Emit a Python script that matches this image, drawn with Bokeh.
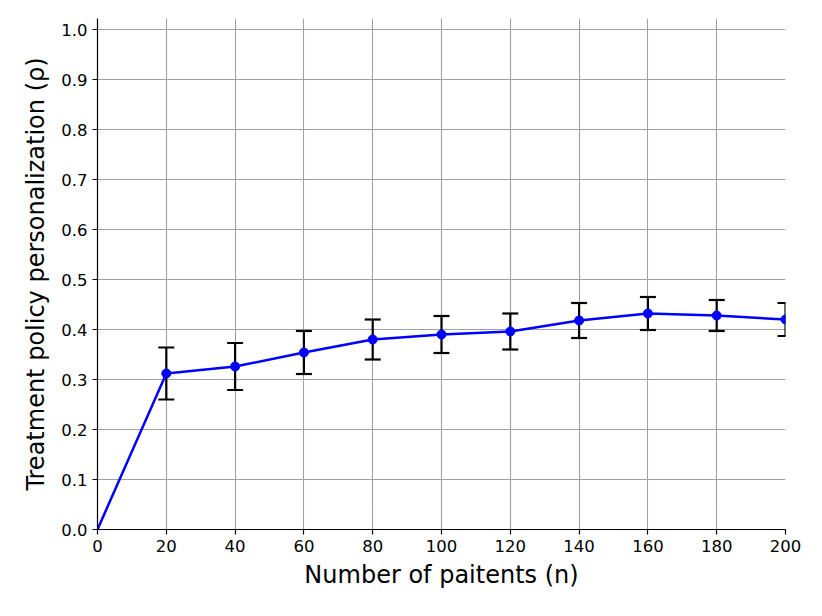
from bokeh.plotting import figure
from bokeh.models import ColumnDataSource, Whisker, Range1d, FixedTicker, NumeralTickFormatter
from bokeh.embed import file_html
from bokeh.resources import INLINE

n_line = [0, 20, 40, 60, 80, 100, 120, 140, 160, 180, 200]
rho_line = [0.0, 0.312, 0.326, 0.354, 0.380, 0.390, 0.396, 0.418, 0.432, 0.428, 0.420]
n_pts = [20, 40, 60, 80, 100, 120, 140, 160, 180, 200]
rho_pts = [0.312, 0.326, 0.354, 0.380, 0.390, 0.396, 0.418, 0.432, 0.428, 0.420]
rho_err = [0.052, 0.047, 0.043, 0.040, 0.037, 0.036, 0.035, 0.033, 0.031, 0.033]
x_ticks = [0, 20, 40, 60, 80, 100, 120, 140, 160, 180, 200]
y_ticks = [0.0, 0.1, 0.2, 0.3, 0.4, 0.5, 0.6, 0.7, 0.8, 0.9, 1.0]

FONT = "DejaVu Sans"

p = figure(width=814, height=608, output_backend="svg", toolbar_location=None,
           x_range=Range1d(0, 200), y_range=Range1d(0, 1.022),
           min_border_left=97, min_border_right=29, min_border_top=18, min_border_bottom=79)
p.outline_line_color = None
p.background_fill_color = "white"
p.border_fill_color = "white"

for ax in (p.xaxis[0], p.yaxis[0]):
    ax.axis_line_color = "black"
    ax.axis_line_width = 1.2
    ax.major_tick_line_color = "black"
    ax.major_tick_line_width = 1.2
    ax.major_tick_out = 5
    ax.major_tick_in = 0
    ax.minor_tick_line_color = None
    ax.major_label_text_font = FONT
    ax.major_label_text_font_size = "16.5px"
    ax.major_label_text_color = "black"
    ax.major_label_standoff = 5
    ax.axis_label_text_font = FONT
    ax.axis_label_text_font_size = "24px"
    ax.axis_label_text_font_style = "normal"
    ax.axis_label_text_color = "black"

p.xaxis.ticker = FixedTicker(ticks=x_ticks)
p.yaxis.ticker = FixedTicker(ticks=y_ticks)
p.yaxis.formatter = NumeralTickFormatter(format="0.0")
p.xaxis.axis_label = "Number of paitents (n)"
p.yaxis.axis_label = "Treatment policy personalization (\u03c1)"
p.xaxis.axis_label_standoff = 6
p.yaxis.axis_label_standoff = 8

p.xgrid.grid_line_color = "#a0a0a0"
p.ygrid.grid_line_color = "#a0a0a0"
p.xgrid.grid_line_width = 1.1
p.ygrid.grid_line_width = 1.1

upper = [v + e for v, e in zip(rho_pts, rho_err)]
lower = [v - e for v, e in zip(rho_pts, rho_err)]
src = ColumnDataSource(dict(x=n_pts, y=rho_pts, upper=upper, lower=lower))

p.line(n_line, rho_line, line_color="#0000ff", line_width=2.5)
w = Whisker(source=src, base="x", upper="upper", lower="lower",
            line_color="black", line_width=2.2)
w.upper_head.size = 16
w.lower_head.size = 16
w.upper_head.line_width = 2.2
w.lower_head.line_width = 2.2
w.upper_head.line_color = "black"
w.lower_head.line_color = "black"
p.add_layout(w)
p.scatter("x", "y", source=src, size=9, fill_color="#0000ff", line_color="#0000ff")

open("out.html", "w").write(file_html(p, INLINE))
